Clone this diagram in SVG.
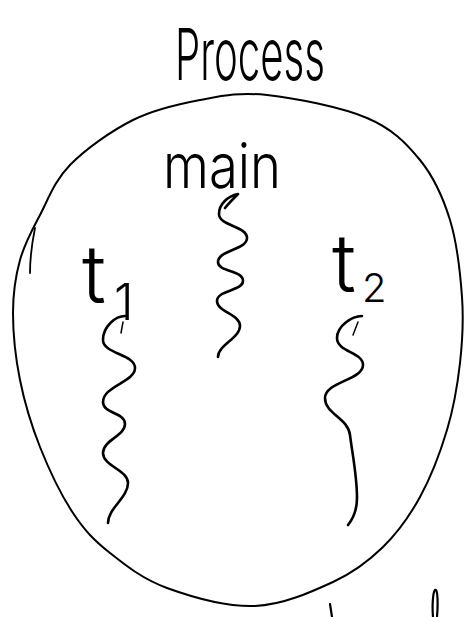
<svg xmlns="http://www.w3.org/2000/svg" width="465" height="617" viewBox="0 0 465 617">
<style>
.ink{fill:none;stroke:#000;stroke-linecap:round;stroke-linejoin:round}
.thread{stroke-width:2.6}
.hand{font-family:"Inter","Roboto","Liberation Sans",sans-serif;font-weight:300;fill:#000}
</style>
<rect width="465" height="617" fill="#fff"/>
<g id="process">
<text class="hand" x="175" y="80" font-size="72" textLength="150" lengthAdjust="spacingAndGlyphs">Process</text>
<path class="ink" stroke-width="2" d="M267,95 C294.8,98 341.5,107.2 367,118 C392.5,128.8 406.2,143 420,160 C433.8,177 443,197.2 450,220 C457,242.8 460.3,273.2 462,297 C463.7,320.8 462.5,340.8 460,363 C457.5,385.2 453.7,407.7 447,430 C440.3,452.3 430.7,477.5 420,497 C409.3,516.5 397.5,532.8 383,547 C368.5,561.2 354.3,572.2 333,582 C311.7,591.8 282.7,605 255,606 C227.3,607 191.2,596.8 167,588 C142.8,579.2 125.7,565.5 110,553 C94.3,540.5 84.7,530.7 73,513 C61.3,495.3 48.8,469.2 40,447 C31.2,424.8 24.5,402.3 20,380 C15.5,357.7 13,333 13,313 C13,293 15.5,276.3 20,260 C24.5,243.7 31.7,230.8 40,215 C48.3,199.2 54.5,180.8 70,165 C85.5,149.2 111.3,130.8 133,120 C154.7,109.2 177.7,104.2 200,100 C222.3,95.8 239.2,92 267,95 Z"/>
<path class="ink" stroke-width="1.8" d="M35,228 C32,243 30,258 30,273"/>
</g>
<g id="main">
<text class="hand" x="163" y="188" font-size="62" textLength="118" lengthAdjust="spacingAndGlyphs">main</text>
<path class="ink thread" d="M225,208 C229,203 234,198 238,194 C228,196 219,204 219,214 C219,226 247,226 247,238 C247,250 218,250 218,262 C218,272 243,270 243,281 C243,291 217,290 217,301 C217,312 240,314 240,326 C240,338 218,345 218,357"/>
</g>
<g id="t1">
<text class="hand" x="82" y="303" font-size="80">t</text>
<text class="hand" x="114" y="320" font-size="50">1</text>
<path class="ink thread" d="M125,316 C116,316 103,326 103,340 C103,354 135,354 135,368 C135,382 103,386 103,402 C103,414 125,412 125,424 C125,436 103,440 103,453 C103,466 128,470 128,483 C128,498 108,508 108,523"/>
<path class="ink" stroke-width="1.5" d="M123,322 L121,333"/>
</g>
<g id="t2">
<text class="hand" x="332" y="292" font-size="80">t</text>
<text class="hand" x="362" y="302" font-size="40">2</text>
<path class="ink thread" d="M362,316 C352,316 337,326 337,338 C337,352 363,352 363,365 C363,380 325,382 325,398 C325,414 348,418 350,435 C352,452 357,475 357,498 C357,512 352,520 348,525"/>
<path class="ink" stroke-width="1.5" d="M358,322 L353,335"/>
</g>
<g id="marks">
<path class="ink" stroke-width="2.2" d="M330,604 L332,617"/>
<path class="ink" stroke-width="2.2" d="M433,617 C432,605 433,592 435,590 C438,588 438,605 437,617"/>
</g>
</svg>
